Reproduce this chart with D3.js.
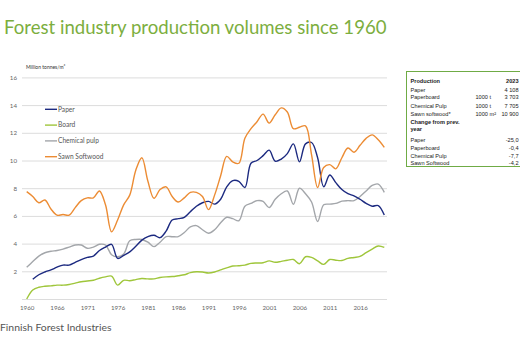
<!DOCTYPE html>
<html><head><meta charset="utf-8">
<script src="https://cdn.jsdelivr.net/npm/d3@7"></script>
<style>html,body{margin:0;padding:0;background:#fff;overflow:hidden}svg{display:block}</style>
</head><body>
<svg id="c" width="520" height="340"></svg>
<script>
const years = d3.range(1961, 2021);
const paper = [null,1.42,1.75,1.95,2.1,2.3,2.45,2.45,2.65,2.85,
3.0,3.1,3.5,3.75,3.95,2.93,3.15,3.4,3.8,4.25,
4.5,4.6,4.43,4.9,5.7,5.8,5.9,6.3,6.7,6.95,
7.05,6.85,7.2,8.1,8.55,8.5,8.05,9.8,10.0,10.35,
10.75,9.95,10.1,10.5,11.2,9.9,11.2,11.3,10.2,8.1,
8.95,8.4,7.9,7.6,7.45,7.2,6.9,6.7,6.75,6.06];
const board = [0,0.65,0.85,0.92,0.95,1.0,1.0,1.05,1.15,1.25,
1.3,1.35,1.5,1.6,1.65,1.0,1.35,1.32,1.4,1.48,
1.45,1.45,1.55,1.6,1.62,1.68,1.75,1.9,1.97,1.95,
1.88,1.95,2.1,2.25,2.38,2.4,2.45,2.57,2.6,2.62,
2.75,2.65,2.72,2.8,2.85,2.55,3.05,3.0,2.75,2.5,
2.85,2.8,2.78,2.93,3.0,3.08,3.35,3.6,3.83,3.72];
const pulp = [2.29,2.7,3.1,3.34,3.45,3.5,3.6,3.75,3.9,3.9,
3.66,3.75,3.95,3.9,3.2,3.05,3.25,4.2,4.3,4.3,
4.1,3.78,4.1,4.5,4.5,4.5,4.8,5.2,5.3,5.0,
4.75,5.0,5.5,5.9,5.8,5.65,6.7,6.9,7.1,7.05,
6.6,7.2,7.6,7.8,6.84,8.0,7.6,7.0,5.6,6.8,
6.85,6.9,7.07,7.1,7.1,7.4,7.8,8.2,8.3,7.7];
const sawn = [7.75,7.4,6.95,7.15,6.5,6.05,6.1,6.05,6.6,7.1,
7.3,7.3,7.8,6.8,4.85,5.7,6.8,7.5,9.3,10.2,
8.5,7.27,7.9,8.1,7.4,7.0,7.3,7.7,7.7,7.4,
6.45,7.5,8.9,10.3,9.9,9.8,11.6,12.3,12.8,13.35,
12.7,13.3,13.8,13.5,12.3,12.4,12.5,10.4,8.05,9.5,
9.7,9.4,10.2,10.9,10.6,11.1,11.6,11.85,11.5,10.95];
const seriesNames = ["Paper","Board","Chemical pulp","Sawn Softwood"];
const seriesColors = ["#1c2a80","#9fc63b","#a3a6aa","#ec8c34"];
const yTicks = [2,4,6,8,10,12,14,16];
const xTickYears = [1961,1966,1971,1976,1981,1986,1991,1996,2001,2006,2011,2016];
const xTickLabels = ["1960","1966","1971","1976","1981","1986","1991","1996","2001","2006","2011","2016"];
const tableRows = [
  ["Production","","2023",true],
  ["Paper","","4 108",false],
  ["Paperboard","1000 t","3 703",false],
  ["Chemical Pulp","1000 t","7 705",false],
  ["Sawn softwood*","1000 m²","10 900",false],
  ["Change from prev.","","",true],
  ["year","","",true],
  ["Paper","","-25,0",false],
  ["Paperboard","","-0,4",false],
  ["Chemical Pulp","","-7,7",false],
  ["Sawn Softwood","","-4,2",false]
];

const svg = d3.select("#c");
const x = d3.scaleLinear().domain([1961,2020]).range([26.7,384.3]);
const y = d3.scaleLinear().domain([0,16]).range([299,77.4]);
const font = "Lato, 'Open Sans', sans-serif";

svg.append("text").attr("x",4).attr("y",34).attr("font-family",font).attr("font-size",18.6)
  .attr("fill","#7cae3e").text("Forest industry production volumes since 1960");

// grid
svg.append("g").selectAll("line").data([0].concat(yTicks)).join("line")
  .attr("x1",22).attr("x2",387).attr("y1",d=>y(d)+0.5).attr("y2",d=>y(d)+0.5)
  .attr("stroke","#dcdcdc").attr("stroke-width",1);

// y axis labels
const yAxis = d3.axisLeft(y).tickValues(yTicks).tickSize(0).tickPadding(0).tickFormat(d3.format("d"));
const gy = svg.append("g").attr("transform","translate(17,0)").call(yAxis);
gy.select(".domain").remove();
gy.selectAll("text").attr("font-family",font).attr("font-size",6.2).attr("fill","#666");

// x axis labels
const xAxis = d3.axisBottom(x).tickValues(xTickYears).tickSize(0).tickPadding(0)
  .tickFormat((d,i)=>xTickLabels[i]);
const gx = svg.append("g").attr("transform","translate(0,305.5)").call(xAxis);
gx.select(".domain").remove();
gx.selectAll("text").attr("font-family",font).attr("font-size",6.2).attr("fill","#666");

svg.append("text").attr("x",26).attr("y",68.5).attr("font-family",font).attr("font-size",5)
  .attr("fill","#333").text("Million tonnes/m³");

const allSeries = [paper,board,pulp,sawn];
const line = d3.line().defined(d=>d[1]!=null).x(d=>x(d[0])).y(d=>y(d[1])).curve(d3.curveCatmullRom.alpha(0.5));
const order = [2,1,0,3];
order.forEach(i=>{
  svg.append("path").datum(years.map((yr,k)=>[yr,allSeries[i][k]]))
    .attr("d",line).attr("fill","none").attr("stroke",seriesColors[i]).attr("stroke-width",1.4)
    .attr("stroke-linejoin","round");
});

// legend
const lg = svg.append("g");
seriesNames.forEach((n,i)=>{
  const ly = 109.3 + i*15.8;
  lg.append("line").attr("x1",45).attr("x2",57).attr("y1",ly).attr("y2",ly)
    .attr("stroke",seriesColors[i]).attr("stroke-width",1.4);
  lg.append("text").attr("x",58).attr("y",ly+2.3).attr("font-family",font).attr("font-size",6.6)
    .attr("fill","#555").text(n);
});

// table
svg.append("rect").attr("x",406.5).attr("y",71.5).attr("width",120).attr("height",95)
  .attr("fill","#fff").attr("stroke","#6fab45").attr("stroke-width",1);
const rowY = [80.7,90,97.3,105.5,113.5,121.7,129.3,140,147.5,155.7,163.3];
tableRows.forEach((r,i)=>{
  const t = svg.append("g").attr("font-family","'Liberation Sans', Arial, sans-serif")
    .attr("font-size",5.6).attr("fill","#222").attr("font-weight",r[3]?"bold":"normal");
  t.append("text").attr("x",410.5).attr("y",rowY[i]+2).text(r[0]);
  if (r[1]) t.append("text").attr("x",475.5).attr("y",rowY[i]+2).text(r[1]);
  if (r[2]) t.append("text").attr("x",518.5).attr("y",rowY[i]+2).attr("text-anchor","end").text(r[2]);
});

svg.append("text").attr("x",0).attr("y",331).attr("font-family",font).attr("font-size",10.4)
  .attr("fill","#555").text("Finnish Forest Industries");
</script>
</body></html>
